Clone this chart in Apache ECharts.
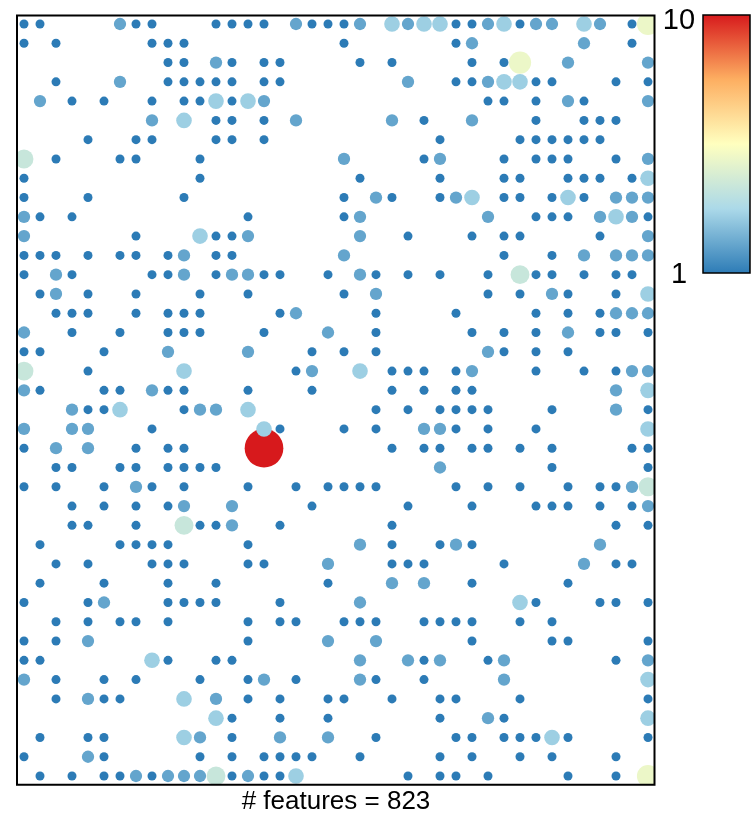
<!DOCTYPE html>
<html><head><meta charset="utf-8">
<script src="https://cdn.jsdelivr.net/npm/echarts@6/dist/echarts.min.js"></script>
<style>html,body{margin:0;padding:0;background:#fff}#c{width:752px;height:818px}</style>
</head><body><div id="c"></div>
<script>
// Grid of cell counts: 40 rows (top to bottom) x 40 columns (left to right).
// '.' = empty cell, digits = count, 'A' = 10.
const rows = [
  "11....211." + "..1111.211" + "12.3233112" + "3122.32.15",
  "1.1.....11" + "1........." + "1......12." + ".....2..1.",
  ".........1" + "1.21.11..." + ".1.1....1." + "15..2....2",
  "..1...2..1" + "1111.11..." + "....2..112" + "3311...1.1",
  ".2.1.1..1." + "113132...." + ".........1" + "1.1.21...2",
  "........2." + "3.11.1.2.." + "...2.1..2." + "..1..111..",
  "....1..11." + "..11.1...." + "......1..." + ".111111...",
  "4.1...11.." + ".1........" + "2....12..." + "1.111..1.2",
  "1........." + ".1........" + ".1....1..." + "11..111.13",
  "1...1....." + "1........." + "1.21..123." + "11.131.222",
  "21.1......" + "....1....." + "12.......2" + "..111.2321",
  "2......1.." + ".3112....." + ".2..1...1." + "11....1..2",
  "111.1.11.1" + "2.11......" + "2........." + "1..1.2.222",
  "1.21....11" + "2.12211..1" + ".21.1.1..1" + ".411.1.11.",
  ".12.1..1.." + ".1..1....." + "1.2......1" + ".1.21..1.3",
  "..111..1.1" + "11....12.." + "..1....1.." + "..1.1.1222",
  "2..1..1..1" + "11...1...2" + "..1.....1." + "1.1.2.11.1",
  "11...1...2" + "....2...1." + "1.1......2" + "1.1.1.....",
  "4...1....." + "3......12." + ".3.111.12." + "..1..1.122",
  "21...11.21" + "1...1...1." + "...1.1.11." + ".......2.3",
  "...2113..." + "122.3....." + "..1.1.1111" + "...1...2.1",
  "2..22...1." + ".....31..." + "1.1..221.1" + "..1......3",
  "1.2.2..1.1" + "1....A...." + "...1.11.11" + ".1.1....11",
  "..11..11.1" + "111......." + "......2..." + "...1.....1",
  "1.1..1.21." + "1...1..1.1" + "111....1.1" + ".1..1.1124",
  "...1.1.1.1" + "2..2....1." + "....1...1." + "..111.1.12",
  "...11..1.." + "4112..1..." + "...1......" + ".......1.1",
  ".1....1111" + "....1....." + ".2.1..121." + "......2...",
  "..1.1...11" + "1...11...2" + "...111...." + "1....2.11.",
  ".1...1...1" + "..1......1" + "...2.2..1." + "....1.....",
  "1...12...1" + "111...1..." + ".2........" + ".31...11.1",
  "..1.1.11.1" + "....1.11.." + "111..1111." + ".1.1......",
  "1.1.2....." + "....1....2" + "..2.....1." + "...11....1",
  "11......31" + "..11......" + ".2..212..1" + "2......1.2",
  "2.1..1.1.." + ".1..12.1.." + ".21..1...." + "2........3",
  "..1.211..." + "3.2.1.1..1" + "1..1..11.." + ".1.......1",
  ".........." + "..31..1..1" + "......1..2" + "1........3",
  ".1..11...." + "32.1..2..2" + "..1....11." + "11131....1",
  "1...21...." + ".1.1.1111." + ".1....1.1." + ".1.1...1..",
  ".1.1.11212" + "22412113.." + "....1.11.1" + "....1..1.5"
];
const colorStops = ['#2c7bb6', '#abd9e9', '#ffffbf', '#fdae61', '#d7191c'];
const valueMin = 1, valueMax = 10;
const legendLabels = ['10', '1'];
const footerText = '# features = 823';

const data = [];
for (let j = rows.length - 1; j >= 0; j--) {
  for (let i = 0; i < rows[j].length; i++) {
    const ch = rows[j][i];
    if (ch === '.') continue;
    const v = ch === 'A' ? 10 : parseInt(ch, 10);
    data.push([i, j, v]);
  }
}

const B = {l: 17, t: 15.5, r: 654.5, b: 784.7};
const chart = echarts.init(document.getElementById('c'), null, {renderer: 'canvas'});
const axisOff = {show: false};
const FONT = '"Liberation Sans", Arial, sans-serif';
chart.setOption({
  animation: false,
  backgroundColor: '#fff',
  grid: {left: B.l, top: B.t, width: B.r - B.l, height: B.b - B.t},
  xAxis: {type: 'value', min: -0.4375, max: 39.406, show: false, splitLine: axisOff},
  yAxis: {type: 'value', inverse: true, min: -0.44, max: 39.45, show: false, splitLine: axisOff},
  visualMap: {show: false, type: 'continuous', dimension: 2, min: valueMin, max: valueMax,
    inRange: {color: colorStops}, seriesIndex: 0},
  series: [{
    type: 'scatter',
    data: data,
    symbol: 'circle',
    symbolSize: d => 9 + 3.3 * (d[2] - 1),
    itemStyle: {opacity: 1, borderWidth: 0},
    emphasis: {disabled: true}
  }],
  graphic: [
    {type: 'rect', z: 100, silent: true, shape: {x: 0, y: 0, width: B.l, height: 800}, style: {fill: '#fff'}},
    {type: 'rect', z: 100, silent: true, shape: {x: 0, y: 0, width: 700, height: B.t}, style: {fill: '#fff'}},
    {type: 'rect', z: 100, silent: true, shape: {x: B.r, y: 0, width: 700 - B.r, height: 800}, style: {fill: '#fff'}},
    {type: 'rect', z: 100, silent: true, shape: {x: 0, y: B.b, width: 700, height: 6}, style: {fill: '#fff'}},
    {type: 'rect', z: 101, silent: true, shape: {x: B.l, y: B.t, width: B.r - B.l, height: B.b - B.t},
      style: {fill: 'none', stroke: '#000', lineWidth: 2}},
    {type: 'rect', z: 101, silent: true, shape: {x: 703, y: 15, width: 47, height: 258},
      style: {stroke: '#000', lineWidth: 1.5,
        fill: new echarts.graphic.LinearGradient(0, 0, 0, 1, colorStops.slice().reverse().map((c, k, a) => ({offset: k / (a.length - 1), color: c})))}},
    {type: 'text', z: 101, silent: true, x: 679, y: 21, style: {text: legendLabels[0], fill: '#000', font: '29px ' + FONT, align: 'center', verticalAlign: 'middle'}},
    {type: 'text', z: 101, silent: true, x: 679, y: 275, style: {text: legendLabels[1], fill: '#000', font: '29px ' + FONT, align: 'center', verticalAlign: 'middle'}},
    {type: 'text', z: 101, silent: true, x: 336, y: 802, style: {text: footerText, fill: '#000', font: '26px ' + FONT, align: 'center', verticalAlign: 'middle'}}
  ]
});
</script>
</body></html>
